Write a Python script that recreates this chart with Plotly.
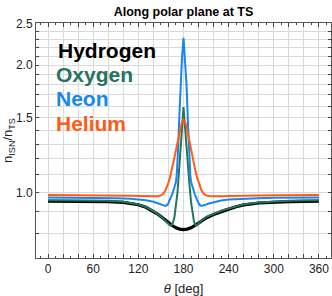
import plotly.graph_objects as go

# ---- data ----
theta_h = [0, 20, 40, 60, 80, 100, 110, 120, 130, 135, 140, 145, 150, 155, 160, 165, 170, 175, 180,
           185, 190, 195, 200, 205, 210, 220, 230, 240, 250, 260, 280, 300, 320, 340, 360]
hydrogen = [0.953, 0.953, 0.953, 0.952, 0.951, 0.947, 0.943, 0.935, 0.922, 0.912, 0.902, 0.890, 0.877,
            0.862, 0.848, 0.835, 0.825, 0.819, 0.817, 0.819, 0.825, 0.834, 0.846, 0.858, 0.870, 0.887,
            0.902, 0.913, 0.925, 0.934, 0.944, 0.949, 0.951, 0.952, 0.953]

theta_o = [0, 20, 40, 60, 80, 100, 120, 130, 140, 150, 155, 158, 160, 162, 164, 166, 168, 170, 172, 174,
           176, 178, 180, 182, 184, 186, 188, 190, 192, 194, 196, 198, 200, 202, 205, 210, 220, 230, 240,
           250, 260, 280, 300, 320, 340, 360]
oxygen = [0.958, 0.958, 0.958, 0.957, 0.955, 0.950, 0.937, 0.923, 0.903, 0.877, 0.861, 0.850, 0.842,
          0.835, 0.836, 0.848, 0.875, 0.930, 1.000, 1.120, 1.250, 1.420, 1.590, 1.430, 1.270, 1.160,
          1.040, 0.950, 0.885, 0.852, 0.838, 0.836, 0.845, 0.853, 0.862, 0.874, 0.891, 0.905, 0.916,
          0.928, 0.937, 0.947, 0.953, 0.956, 0.957, 0.958]

theta_n = [0, 30, 60, 90, 110, 120, 130, 140, 145, 150, 153, 156, 159, 162, 165, 168, 170, 171, 172, 173,
           174, 176, 178, 180, 182, 184, 186, 187, 188, 189, 190, 192, 195, 198, 201, 204, 207, 210, 215,
           220, 230, 240, 260, 280, 300, 330, 360]
neon = [0.972, 0.972, 0.971, 0.969, 0.966, 0.963, 0.958, 0.950, 0.944, 0.936, 0.931, 0.929, 0.935,
        0.960, 0.990, 1.030, 1.060, 1.100, 1.170, 1.280, 1.450, 1.800, 2.080, 2.320, 2.080, 1.800,
        1.450, 1.280, 1.170, 1.100, 1.060, 1.030, 0.990, 0.960, 0.935, 0.929, 0.931, 0.936, 0.943,
        0.949, 0.957, 0.962, 0.967, 0.969, 0.971, 0.972, 0.972]

theta_he = [0, 30, 60, 90, 110, 120, 130, 140, 145, 150, 153, 156, 158, 160, 162, 164, 166, 168, 170,
            172, 174, 176, 178, 180, 182, 184, 186, 188, 190, 192, 194, 196, 198, 200, 202, 204, 207,
            210, 215, 220, 230, 240, 260, 300, 360]
helium = [0.986, 0.986, 0.985, 0.984, 0.982, 0.981, 0.979, 0.978, 0.979, 0.984, 0.993, 1.010, 1.030,
          1.055, 1.085, 1.120, 1.160, 1.210, 1.260, 1.310, 1.370, 1.430, 1.470, 1.487, 1.470, 1.430,
          1.370, 1.310, 1.260, 1.210, 1.160, 1.120, 1.085, 1.055, 1.030, 1.010, 0.993, 0.984, 0.979,
          0.978, 0.979, 0.981, 0.983, 0.985, 0.986]

series_names = ["Hydrogen", "Oxygen", "Neon", "Helium"]
series_colors = ["#000000", "#27735f", "#1787ee", "#ff5b14"]

x_tickvals = list(range(0, 361, 20))
x_ticktext = [str(v) if v % 60 == 0 else "" for v in x_tickvals]
y_tickvals = [round(0.7 + 0.1 * i, 1) for i in range(19)]
y_ticktext = [("%.1f" % v) if v in (1.0, 1.5, 2.0, 2.5) else "" for v in y_tickvals]

fig = go.Figure()
fig.add_trace(go.Scatter(x=theta_h, y=hydrogen, mode="lines",
                         line=dict(color=series_colors[0], width=3.2)))
fig.add_trace(go.Scatter(x=theta_o, y=oxygen, mode="lines",
                         line=dict(color=series_colors[1], width=2)))
fig.add_trace(go.Scatter(x=theta_n, y=neon, mode="lines",
                         line=dict(color=series_colors[2], width=2)))
fig.add_trace(go.Scatter(x=theta_he, y=helium, mode="lines",
                         line=dict(color=series_colors[3], width=2)))

# text legend
leg_y = [0.881, 0.779, 0.677, 0.574]
leg_x = [0.068, 0.062, 0.062, 0.062]
for name, col, xx, yy in zip(series_names, series_colors, leg_x, leg_y):
    fig.add_annotation(x=xx, y=yy, xref="paper", yref="paper", text="<b>%s</b>" % name,
                       showarrow=False, xanchor="left", yanchor="middle",
                       font=dict(size=21, color=col, family="Liberation Sans, Arial, sans-serif"))

fig.update_layout(
    width=332, height=296,
    margin=dict(l=36, r=1, t=23, b=38, autoexpand=False),
    paper_bgcolor="white", plot_bgcolor="white",
    showlegend=False,
    font=dict(family="Liberation Sans, Arial, sans-serif", size=12, color="#333333"),
    title=dict(text="<b>Along polar plane at TS</b>", x=0.5527, xanchor="center",
               y=0.975, yanchor="top", font=dict(size=12.5, color="#000000")),
)
fig.update_xaxes(
    range=[-16, 376], tickvals=x_tickvals, ticktext=x_ticktext,
    ticks="inside", ticklen=4, tickcolor="#444444",
    showgrid=True, gridcolor="#d9d9d9", gridwidth=1,
    showline=True, linecolor="#555555", linewidth=1, mirror="ticks",
    minor=dict(dtick=10, tick0=0, ticks="inside", ticklen=2, tickcolor="#444444", showgrid=False),
    zeroline=False, automargin=False,
    title=dict(text="<i>θ</i> [deg]", font=dict(size=13, color="#222222")),
    tickfont=dict(size=12, color="#222222"),
)
fig.update_yaxes(
    type="log", range=[-0.155, 0.4003], tickvals=y_tickvals, ticktext=y_ticktext,
    ticks="inside", ticklen=3, tickcolor="#444444",
    showgrid=True, gridcolor="#d9d9d9", gridwidth=1,
    showline=True, linecolor="#555555", linewidth=1, mirror="ticks",
    zeroline=False, automargin=False,
    title=dict(text="n<sub>ISN</sub>/n<sub>TS</sub>", font=dict(size=13, color="#222222")),
    tickfont=dict(size=12, color="#222222"),
)

fig.write_html("out.html", config={"displayModeBar": False},
               post_script="document.body.style.margin='0';document.body.style.overflow='hidden';")
